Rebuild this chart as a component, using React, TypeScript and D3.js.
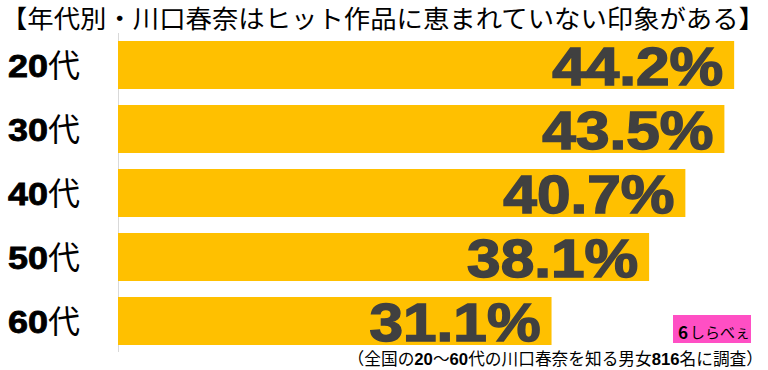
import React, { useRef, useEffect } from 'react';
import * as d3 from 'd3';

const width = 768;
const height = 370;

const categories = ['20代', '30代', '40代', '50代', '60代'];
const values = [44.2, 43.5, 40.7, 38.1, 31.1];

const title = '【年代別・川口春奈はヒット作品に恵まれていない印象がある】';

export default function App() {
    const svgRef = useRef<SVGSVGElement>(null);

    useEffect(() => {
        const svg = d3.select(svgRef.current);
        svg.selectAll('*').remove();

        const x = d3.scaleLinear().domain([0, 50]).range([118, 815]);
        const y = d3.scaleBand()
            .domain(categories)
            .range([33, 353])
            .paddingInner(0.25)
            .paddingOuter(0.125);

        svg.append('rect').attr('width', width).attr('height', height).attr('fill', '#fff');

        // title
        svg.append('text')
            .attr('x', 1)
            .attr('y', 28)
            .attr('textLength', 764)
            .attr('lengthAdjust', 'spacingAndGlyphs')
            .attr('font-family', '"Noto Sans CJK JP", sans-serif')
            .attr('font-size', 25)
            .attr('fill', '#000')
            .text(title);

        // axis line
        svg.append('line')
            .attr('x1', 118.5).attr('x2', 118.5)
            .attr('y1', 33).attr('y2', 352)
            .attr('stroke', '#d9d9d9')
            .attr('stroke-width', 1);

        const rows = svg.selectAll('g.row')
            .data(values)
            .join('g')
            .attr('class', 'row');

        rows.append('rect')
            .attr('x', x(0))
            .attr('y', (d, i) => y(categories[i])!)
            .attr('width', d => x(d) - x(0))
            .attr('height', y.bandwidth())
            .attr('fill', '#ffc000');

        rows.append('text')
            .attr('x', d => x(d) - 182)
            .attr('y', (d, i) => y(categories[i])! + y.bandwidth() / 2 + 20)
            .attr('textLength', 171)
            .attr('lengthAdjust', 'spacingAndGlyphs')
            .attr('font-family', '"Liberation Sans", Arial, sans-serif')
            .attr('font-weight', 'bold')
            .attr('font-size', 54)
            .attr('fill', '#404040')
            .attr('stroke', '#404040')
            .attr('stroke-width', 1.5)
            .text(d => d.toFixed(1) + '%');

        const labels = svg.selectAll('text.cat')
            .data(categories)
            .join('text')
            .attr('class', 'cat')
            .attr('x', 8)
            .attr('y', d => y(d)! + y.bandwidth() / 2 + 12)
            .attr('font-size', 32)
            .attr('fill', '#000');
        labels.append('tspan')
            .attr('font-family', '"Liberation Sans", Arial, sans-serif')
            .attr('font-weight', 'bold')
            .attr('stroke', '#000')
            .attr('stroke-width', 0.8)
            .attr('textLength', 40)
            .attr('lengthAdjust', 'spacingAndGlyphs')
            .text(d => d.replace('代', ''));
        labels.append('tspan')
            .attr('font-family', '"Noto Sans CJK JP", sans-serif')
            .text('代');

        // logo
        const logo = svg.append('g').attr('transform', 'translate(673,315)');
        logo.append('rect').attr('width', 78).attr('height', 28).attr('fill', '#ff4fc4');
        logo.append('text')
            .attr('x', 5).attr('y', 24)
            .attr('font-family', '"Noto Sans CJK JP", sans-serif')
            .attr('font-weight', 'bold')
            .attr('font-size', 17)
            .attr('fill', '#000')
            .text('6');
        logo.append('text')
            .attr('x', 17).attr('y', 23)
            .attr('font-family', '"Noto Sans CJK JP", sans-serif')
            .attr('font-size', 15)
            .attr('fill', '#000')
            .text('しらべぇ');

        // footnote, laid out piece by piece
        const parts: [string, boolean][] = [
            ['（全国の', false], ['20', true], ['～', false], ['60', true],
            ['代の川口春奈を知る男女', false], ['816', true], ['名に調査）', false]
        ];
        const noteG = svg.append('g');
        let cx = 0;
        parts.forEach(([t, b]) => {
            const el = noteG.append('text')
                .attr('x', cx)
                .attr('y', 365)
                .attr('font-weight', b ? 'bold' : 'normal')
                .attr('font-family', b ? '"Liberation Sans", Arial, sans-serif' : '"Noto Sans CJK JP", sans-serif')
                .attr('font-size', 16.7)
                .attr('fill', '#000')
                .text(t);
            cx += (el.node() as SVGTextElement).getComputedTextLength();
        });
        noteG.attr('transform', `translate(${763 - cx},0)`);
    }, []);

    return (
        <svg width={width} height={height} ref={svgRef} style={{ position: 'absolute', left: 0, top: 0 }}></svg>
    );
}
